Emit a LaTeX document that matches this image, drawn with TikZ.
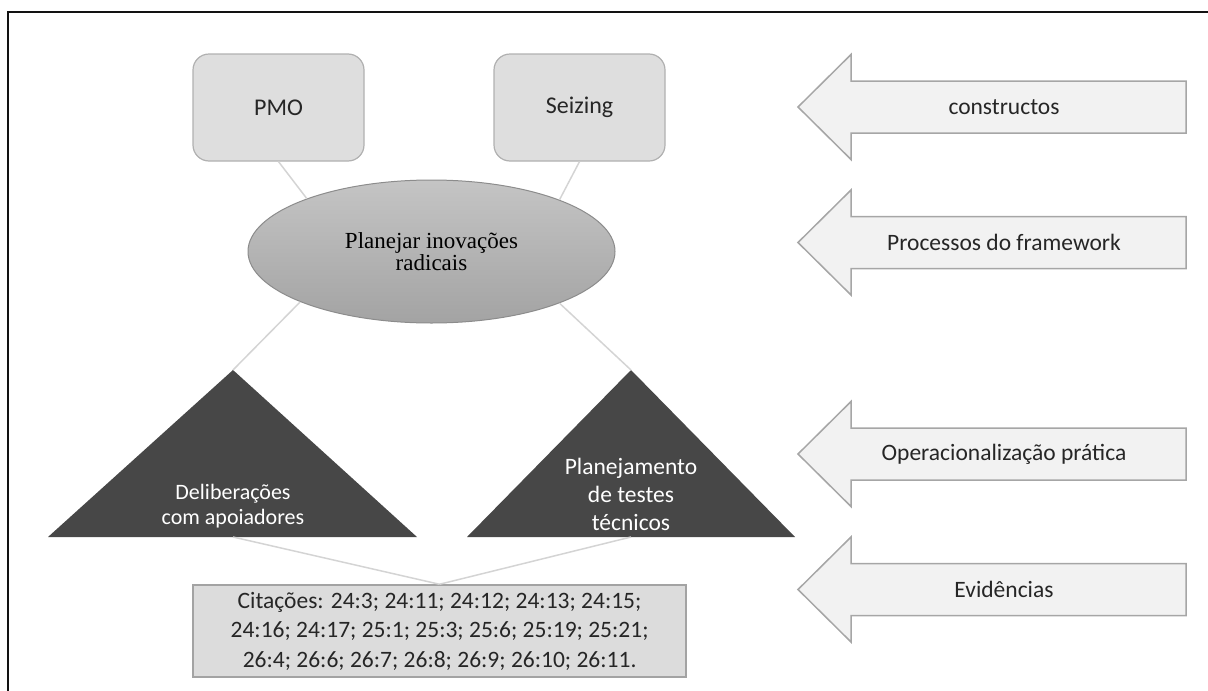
\documentclass[tikz,border=0pt]{standalone}
\usepackage{fontspec}
\setmainfont{Carlito}
\newfontfamily\ellfont{Liberation Serif}
\usetikzlibrary{shapes.geometric}
\definecolor{inkdark}{HTML}{262626}
\definecolor{boxfill}{HTML}{DEDEDE}
\definecolor{boxline}{HTML}{B0B0B0}
\definecolor{linkgray}{HTML}{D4D4D4}
\definecolor{trifill}{HTML}{474747}
\definecolor{arrowfill}{HTML}{F2F2F2}
\definecolor{arrowline}{HTML}{A6A6A6}
\definecolor{citefill}{HTML}{DCDCDC}
\definecolor{citeline}{HTML}{A3A3A3}
\begin{document}
\begin{tikzpicture}[x=1pt,y=-1pt,
  construct/.style={rectangle, rounded corners=16pt, draw=boxline, line width=1.2pt,
    fill=boxfill, minimum width=171pt, minimum height=107pt, inner sep=0pt,
    text=inkdark, font=\fontsize{24}{29}\selectfont},
  process/.style={ellipse, draw=black!45, line width=1pt, top color=black!23,
    bottom color=black!36, minimum width=367pt, minimum height=143pt, inner sep=0pt,
    align=center, text=black, font=\ellfont\fontsize{23}{22}\selectfont},
  tritextA/.style={align=center, text=white, inner sep=0pt, font=\fontsize{22}{24.5}\selectfont},
  tritextB/.style={align=center, text=white, inner sep=0pt, font=\fontsize{23.5}{28}\selectfont},
  citebox/.style={rectangle, draw=citeline, line width=1.5pt, fill=citefill,
    minimum width=493pt, minimum height=92pt, inner sep=0pt, align=center,
    text=inkdark, font=\fontsize{23.5}{29.5}\selectfont},
  link/.style={draw=linkgray, line width=1.5pt},
  bigarrow/.style={draw=arrowline, fill=arrowfill, line width=1.5pt, line join=miter},
  arrowlabel/.style={text=inkdark, inner sep=0pt, font=\fontsize{23.5}{28}\selectfont}
]
\useasboundingbox (0,0) rectangle (1208,691);

% outer frame (left and top edges)
\draw[black!93, line width=2.2pt] (8,691) -- (8,12) -- (1208,12);

% constructs
\node[construct] (pmo)  at (278.5,107.5) {PMO};
\node[construct] (seiz) at (579.5,107.5) {Seizing};

% framework process
\node[process] (ell) at (431.5,251.5) {Planejar inovações\\radicais};

% practical operationalisation
\coordinate (ltop)   at (233,370);
\coordinate (lleft)  at (48,537);
\coordinate (lright) at (417,537);
\coordinate (lbase)  at (233,537);
\fill[trifill] (lleft) -- (ltop) -- (lright) -- cycle;
\node[tritextA] (ltxt) at (233,506) {Deliberações\\com apoiadores};

\coordinate (rtop)   at (631,370);
\coordinate (rleft)  at (467,537);
\coordinate (rright) at (795,537);
\coordinate (rbase)  at (631,537);
\fill[trifill] (rleft) -- (rtop) -- (rright) -- cycle;
\node[tritextB] (rtxt) at (631,494) {Planejamento\\de testes\\técnicos};

% evidence
\node[citebox] (cit) at (439.5,631) {Citações: 24:3; 24:11; 24:12; 24:13; 24:15;\\24:16; 24:17; 25:1; 25:3; 25:6; 25:19; 25:21;\\26:4; 26:6; 26:7; 26:8; 26:9; 26:10; 26:11.};

% connectors
\draw[link] (pmo.south)  -- (ell.157.5);
\draw[link] (seiz.south) -- (ell.22);
\draw[link] (ell.201.8)  -- (ltop);
\draw[link] (ell.338.6)  -- (rtop);
\draw[link] (lbase) -- (cit.north);
\draw[link] (rbase) -- (cit.north);

% level arrows on the right
\foreach \c/\nm/\txt in {107/lvlA/constructos,
                         242.5/lvlB/Processos do framework,
                         454/lvlC/Operacionalização prática,
                         589.5/lvlD/Evidências}{
  \filldraw[bigarrow] (1186,{\c-26}) -- (851,{\c-26}) -- (851,{\c-52.5}) -- (798,\c)
      -- (851,{\c+52.5}) -- (851,{\c+26}) -- (1186,{\c+26}) -- cycle;
  \node[arrowlabel] (\nm) at (1004,\c) {\txt};
}
\end{tikzpicture}
\end{document}
